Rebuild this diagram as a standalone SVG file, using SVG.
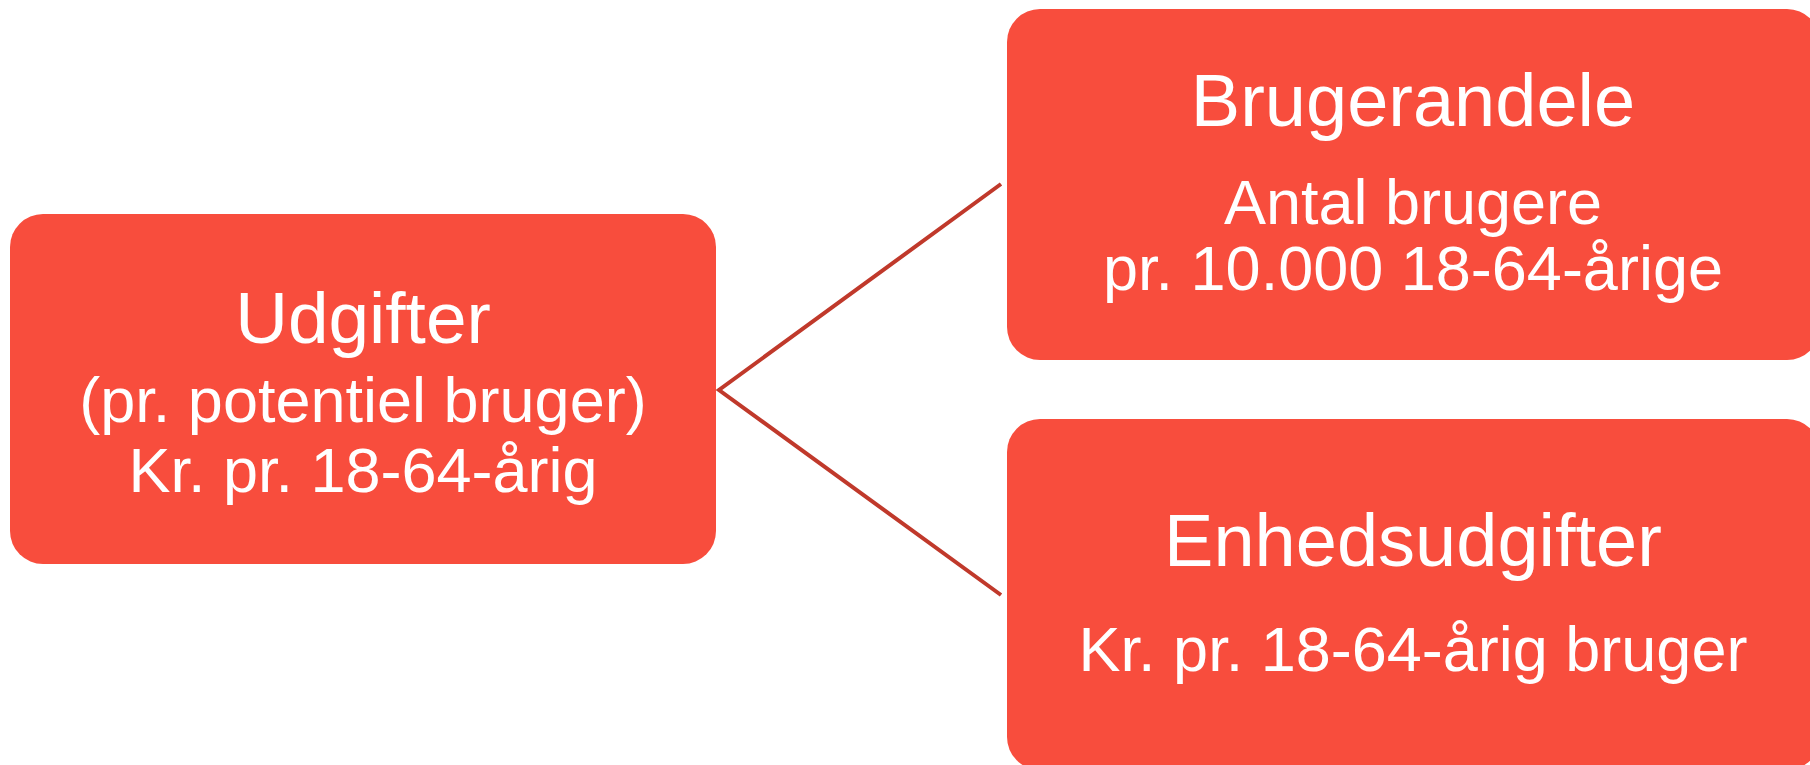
<svg xmlns="http://www.w3.org/2000/svg" width="1810" height="765" viewBox="0 0 1810 765">
<style>
.box{fill:#F84D3D;}
.t{font-family:"Liberation Sans",Arial,sans-serif;fill:#FFFFFF;text-anchor:middle;}
.conn{fill:none;stroke:#C0392B;stroke-width:4;}
</style>
<rect width="1810" height="765" fill="#FFFFFF"/>
<g id="connectors">
<polyline class="conn" points="1001,184 719,390 1001,595"/>
</g>
<g id="node-udgifter">
<rect class="box" x="10" y="214" width="706" height="350" rx="33" ry="33"/>
<text class="t" x="363" y="343" font-size="73">Udgifter</text>
<text class="t" x="363" y="422" font-size="63">(pr. potentiel bruger)</text>
<text class="t" x="363" y="492" font-size="63">Kr. pr. 18-64-årig</text>
</g>
<g id="node-brugerandele">
<rect class="box" x="1007" y="9" width="813" height="351" rx="33" ry="33"/>
<text class="t" x="1413" y="126" font-size="74">Brugerandele</text>
<text class="t" x="1413" y="224" font-size="63">Antal brugere</text>
<text class="t" x="1413" y="290" font-size="63">pr. 10.000 18-64-årige</text>
</g>
<g id="node-enhedsudgifter">
<rect class="box" x="1007" y="419" width="813" height="351" rx="33" ry="33"/>
<text class="t" x="1413" y="566" font-size="74">Enhedsudgifter</text>
<text class="t" x="1413" y="671" font-size="63">Kr. pr. 18-64-årig bruger</text>
</g>
</svg>
